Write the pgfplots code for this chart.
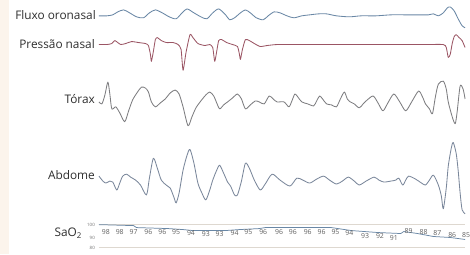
\documentclass[border=0pt]{standalone}
\usepackage{pgfplots}
\pgfplotsset{compat=1.18}
\usepackage{fontspec}
\setmainfont{Open Sans}
\definecolor{cflux}{RGB}{105,135,165}
\definecolor{cpres}{RGB}{155,85,100}
\definecolor{ctor}{RGB}{125,125,128}
\definecolor{cabd}{RGB}{122,135,155}
\definecolor{csat}{RGB}{105,135,165}
\definecolor{cgrid}{RGB}{222,216,208}
\definecolor{cpeach}{RGB}{252,244,236}
\begin{document}
\begin{tikzpicture}
\fill[white] (0,0) rectangle (470bp,257bp);
\fill[cpeach] (0,0) rectangle (9bp,257bp);
\begin{axis}[
  at={(0,0)}, anchor=south west,
  scale only axis, width=470bp, height=257bp,
  xmin=0, xmax=470, ymin=0, ymax=257, y dir=reverse,
  hide axis, clip=false,
  every axis plot/.append style={line width=0.85bp, line join=round},
]
% Fluxo oronasal
\addplot[cflux, smooth, tension=0.45] coordinates {
(100,16)(108,16)(114,15)(119,12)(125,10)(131,13)(138,17)(145,18)(151,13)(157,10)(164,13)(171,17)(178,19)(184,13)(189,9)(196,13)(203,17)(209,19)(215,13)(221,9)(228,15)(232,20)(237,18)(243,13)(248,10)(253,13)(259,18)(266,20)(271,16)(277,12)(283,13)(290,16)(297,18)(305,16)(313,15)(322,14)(330,14)(340,16)(353,17)(365,16)(380,16)(395,15)(410,15)(422,15)(433,15)(438,14)(443,16)(448,13)(452,8)(455,7)(459,11)(463,19)(467,26)(470,28)};
% Pressao nasal
\addplot[cpres, smooth, tension=0.35] coordinates {
(100,45)(108,45)(113,44)(116,41)(119,43)(122,45)(127,44)(133,42)(140,43)(147,44)(150,46)(152,55)(153,62)(155,52)(157,40)(159,38)(163,41)(168,43)(175,43)(180,45)(183,50)(185,71)(188,53)(192,35)(195,38)(200,44)(207,46)(212,45)(215,48)(217,62)(219,52)(221,41)(224,40)(229,43)(235,45)(240,47)(242,55)(243,60)(245,50)(248,40)(252,41)(257,44)(263,47)(270,46)(280,45)(300,45)(330,45)(360,45)(400,45)(430,45)(448,45)(451,48)(453,58)(455,55)(457,44)(459,37)(461,35)(464,38)(467,41)(470,48)};
% Torax
\addplot[ctor, smooth, tension=0.45] coordinates {
(100,103)(103,105)(106,96)(109,83)(111,95)(113,110)(117,108)(121,114)(126,123)(130,112)(134,101)(139,93)(143,88)(147,89)(150,93)(153,103)(157,108)(162,104)(167,100)(172,94)(177,91)(181,95)(185,108)(190,127)(194,118)(198,109)(203,102)(208,96)(212,93)(216,97)(219,104)(222,110)(226,106)(230,103)(235,99)(240,95)(244,100)(248,110)(253,106)(258,102)(262,103)(267,105)(272,97)(276,100)(280,103)(287,103)(292,108)(295,102)(298,95)(301,98)(305,103)(311,105)(317,107)(320,102)(323,97)(326,100)(330,105)(335,106)(340,108)(344,100)(348,93)(351,100)(354,103)(358,105)(363,109)(367,105)(370,102)(377,97)(382,104)(387,112)(392,104)(398,95)(404,103)(410,112)(416,103)(423,92)(427,98)(430,105)(434,110)(437,115)(440,98)(443,85)(448,82)(451,90)(453,103)(457,118)(460,125)(462,113)(465,87)(468,90)(470,100)};
% Abdome
\addplot[cabd, smooth, tension=0.45] coordinates {
(100,178)(104,183)(107,185)(111,183)(114,184)(118,192)(121,185)(124,178)(128,176)(132,179)(137,182)(142,187)(148,197)(151,180)(155,160)(159,170)(163,182)(168,187)(172,190)(176,200)(178,205)(181,195)(185,172)(189,157)(192,151)(196,165)(200,185)(204,195)(208,202)(212,192)(215,182)(219,172)(222,167)(226,175)(230,184)(233,188)(237,197)(240,197)(244,183)(248,165)(252,170)(257,182)(263,192)(268,186)(275,176)(283,182)(293,188)(300,180)(306,182)(313,185)(320,181)(327,178)(333,182)(340,186)(346,183)(352,179)(358,183)(363,187)(370,183)(378,179)(383,182)(388,184)(395,183)(400,182)(403,180)(407,187)(410,182)(413,178)(420,181)(426,185)(430,187)(434,182)(438,177)(443,187)(446,198)(448,211)(451,190)(453,168)(456,150)(458,144)(461,155)(463,172)(465,195)(467,212)(470,216)};
% SaO2 grid lines
\addplot[cgrid, line width=0.8bp] coordinates {(100,226.5)(470,226.5)};
\addplot[cgrid, line width=0.8bp] coordinates {(100,250.5)(470,250.5)};
% SaO2 trace
\addplot[csat, line width=0.75bp] coordinates {
(100,227)(135,228)(138,230)(170,231)(185,232)(195,233)(228,233)(242,232)(262,231)(268,230)(335,230)(355,233)(382,235)(405,236)(408,234)(422,236)(438,239)(455,240)(470,242)};
% SaO2 values
\addplot[draw=none, mark=none, nodes near coords, point meta=explicit symbolic,
  nodes near coords style={anchor=center, inner sep=0pt, font=\fontsize{7}{8}\selectfont, text=black!62}]
  table[meta=v] {
x y v
107 234 98
121 234 98
135 234 97
150 234 96
164 234 96
178 234 95
193 236 94
208 237 93
222 237 93
237 236 94
251 234 95
266 234 96
282 234 96
296 234 96
311 234 96
325 234 96
339 234 95
353 236 94
369 239 93
384 239 92
398 241 91
413 233 89
428 234 88
442 236 87
457 238 86
471 238 85
};
% labels
\tikzset{lab/.style={anchor=east, inner sep=0pt, font=\fontsize{12}{14}\selectfont, text=black!82}}
\node[lab] at (axis cs:97,15) {Fluxo oronasal};
\node[lab] at (axis cs:96,45) {Pressão nasal};
\node[lab] at (axis cs:96,100) {Tórax};
\node[lab] at (axis cs:96,177) {Abdome};
\node[lab] at (axis cs:83,236) {SaO\textsubscript{2}};
\node[anchor=east, inner sep=0pt, font=\fontsize{4.5}{5}\selectfont, text=black!55] at (axis cs:96,227) {100};
\node[anchor=east, inner sep=0pt, font=\fontsize{4.5}{5}\selectfont, text=black!55] at (axis cs:96,240) {90};
\node[anchor=east, inner sep=0pt, font=\fontsize{4.5}{5}\selectfont, text=black!55] at (axis cs:96,251) {80};
\end{axis}
\end{tikzpicture}
\end{document}
